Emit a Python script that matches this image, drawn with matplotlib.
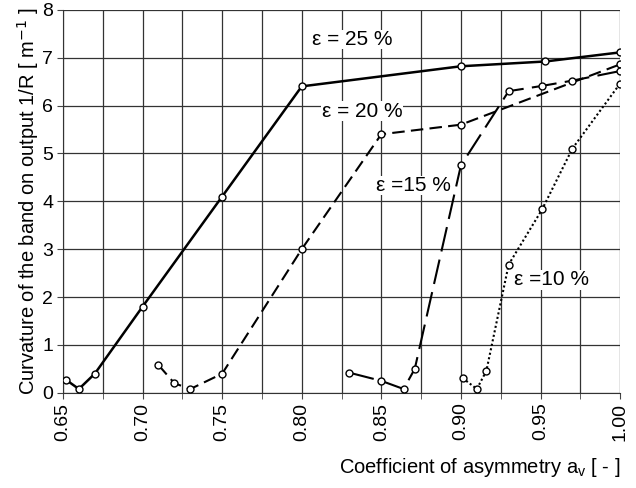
import matplotlib
matplotlib.use("Agg")
import matplotlib.pyplot as plt
from matplotlib.ticker import MultipleLocator

plt.rcParams["font.family"] = ["Liberation Sans", "DejaVu Sans"]

# eps = 25 %
x25 = [0.652, 0.660, 0.670, 0.700, 0.750, 0.800, 0.900, 0.953, 1.000]
y25 = [0.27, 0.08, 0.40, 1.80, 4.10, 6.40, 6.82, 6.92, 7.11]

# eps = 20 %
x20 = [0.710, 0.720, 0.730, 0.750, 0.800, 0.850, 0.900, 1.000]
y20 = [0.58, 0.20, 0.08, 0.40, 3.00, 5.40, 5.60, 6.86]

# eps = 15 %
x15 = [0.830, 0.850, 0.864, 0.871, 0.900, 0.930, 0.951, 0.970, 1.000]
y15 = [0.42, 0.25, 0.08, 0.50, 4.75, 6.30, 6.41, 6.52, 6.72]

# eps = 10 %
x10 = [0.901, 0.910, 0.916, 0.930, 0.951, 0.970, 1.000]
y10 = [0.31, 0.08, 0.46, 2.68, 3.83, 5.10, 6.46]

labels = ["ε = 25 %", "ε = 20 %", "ε =15 %", "ε =10 %"]
label_pos = [(0.832, 7.38), (0.838, 5.88), (0.870, 4.33), (0.957, 2.36)]

fig = plt.figure(figsize=(6.36, 4.88), dpi=100)
ax = fig.add_axes([0.099, 0.195, 0.876, 0.785])

mk = dict(marker="o", markersize=5, markerfacecolor="white",
          markeredgecolor="black", markeredgewidth=1.0, color="black", zorder=3)

ax.plot(x25, y25, linestyle="-", linewidth=1.8, **mk)
ax.plot(x20, y20, linestyle=(0, (6, 3)), linewidth=1.5, **mk)
ax.plot(x15, y15, linestyle=(0, (12, 4)), linewidth=1.5, **mk)
ax.plot(x10, y10, linestyle=(0, (1, 1.2)), linewidth=1.5, **mk)

for txt, (tx, ty) in zip(labels, label_pos):
    ax.text(tx, ty, txt, fontsize=15, ha="center", va="center", zorder=4,
            bbox=dict(facecolor="white", edgecolor="none", pad=0.3))

ax.set_xlim(0.65, 1.0)
ax.set_ylim(0, 8)
ax.xaxis.set_major_locator(MultipleLocator(0.05))
ax.xaxis.set_minor_locator(MultipleLocator(0.025))
ax.yaxis.set_major_locator(MultipleLocator(1))
ax.set_xticklabels([f"{v:.2f}" for v in ax.get_xticks()], rotation=90)
ax.tick_params(axis="both", labelsize=14, length=4, color="#444444", pad=3)
ax.tick_params(axis="x", which="minor", length=4, color="#444444")

ax.grid(True, which="both", color="#333333", linewidth=0.9)
ax.set_axisbelow(True)
for s in ["top", "right"]:
    ax.spines[s].set_visible(False)
for s in ["left", "bottom"]:
    ax.spines[s].set_color("#333333")

ax.set_ylabel("Curvature of the band on output 1/R [ m$^{-1}$ ]", fontsize=14.5, labelpad=1)
ax.set_xlabel("Coefficient of asymmetry a$_{\\mathregular{v}}$ [ - ]", fontsize=14.5)
ax.xaxis.set_label_coords(1.0, -0.165)
ax.xaxis.label.set_horizontalalignment("right")

fig.savefig("out.png", dpi=100)
